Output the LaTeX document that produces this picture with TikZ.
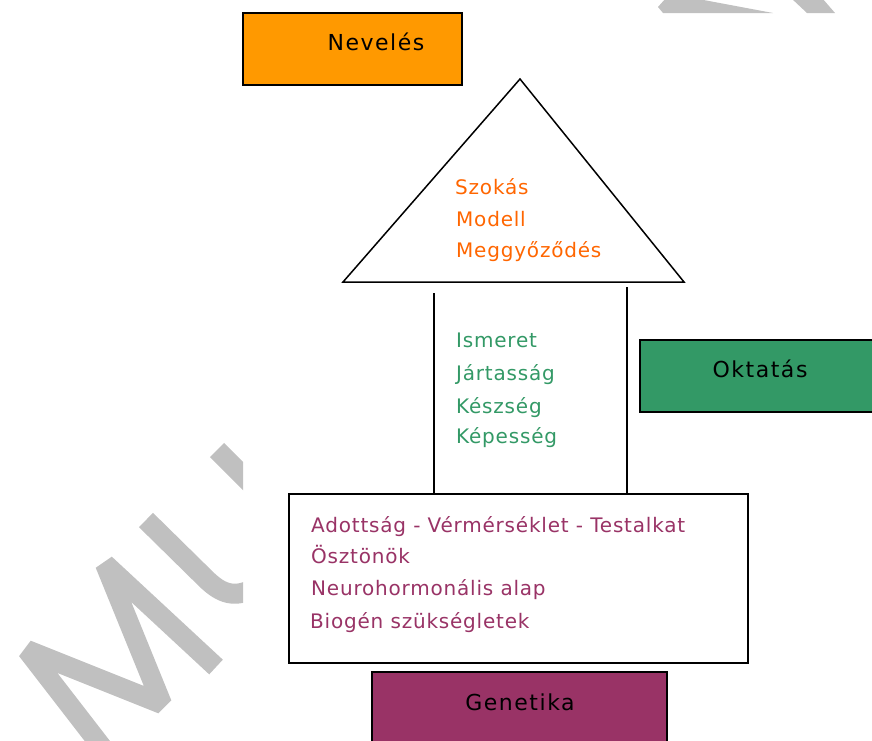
\documentclass[tikz,border=0pt]{standalone}
\usepackage{fontspec}
\setmainfont{DejaVu Sans}
\newfontfamily\itemfont{DejaVu Sans}[LetterSpace=4]
\newfontfamily\titlefont{DejaVu Sans}[LetterSpace=7]
\definecolor{orfill}{HTML}{FF9900}
\definecolor{grfill}{HTML}{339966}
\definecolor{pufill}{HTML}{993366}
\definecolor{ortext}{HTML}{FF6600}
\definecolor{wmgrey}{HTML}{C0C0C0}
\tikzset{
  box/.style={draw=black, line width=1.5pt, rectangle, inner sep=0pt},
  edge/.style={draw=black, line width=1.5pt},
  item/.style={inner sep=0pt, anchor=base west, font=\itemfont\fontsize{20}{22}\selectfont},
  title/.style={inner sep=0pt, anchor=base, text=black, font=\titlefont\fontsize{22}{24}\selectfont},
  wmstroke/.style={draw=wmgrey, line width=20pt, line join=bevel, line cap=butt}
}
\begin{document}
\begin{tikzpicture}[x=1pt, y=-1pt]
\useasboundingbox (0,0) rectangle (872,740);
\fill[white] (0,0) rectangle (872,740);
% watermark (clipped)
\begin{scope}
  \clip (0,0) rectangle (243,745) (243,-5) rectangle (877,13);
  \draw[wmstroke] (112,760) -- (27,650) -- (162,704) -- (105,564) -- (216,667);
  \draw[wmstroke] (146,520) -- (205,578) .. controls (222,595) and (235,598) .. (255,588);
  \draw[wmstroke] (217,450) -- (265,498);
  \fill[wmgrey] (658,7) -- (666,-2) -- (693,-2) -- (773,13) -- (663,13) -- cycle;
  \fill[wmgrey] (791,-2) -- (822,-2) -- (835,13) -- (807,13) -- cycle;
\end{scope}
% boxes
\node[box, fill=orfill, minimum width=219pt, minimum height=72pt] (nev) at (352.5,49) {};
\node[box, fill=grfill, minimum width=238pt, minimum height=72pt] (okt) at (759,376) {};
\node[box, fill=white, minimum width=459pt, minimum height=169pt] (bot) at (518.5,578.5) {};
\node[box, fill=pufill, minimum width=295pt, minimum height=78pt] (gen) at (519.5,711) {};
% roof
\coordinate (apex) at (520,79);
\coordinate (rr) at (684,282);
\coordinate (rl) at (343,282);
\draw[edge, line join=miter] (apex) -- (rr) -- (rl) -- cycle;
% walls
\coordinate (wl) at (434,293);
\coordinate (wr) at (627,287);
\draw[edge] (wl) -- (wl |- bot.north);
\draw[edge] (wr) -- (wr |- bot.north);
% titles
\node[title] (nevt) at (376,50) {Nevelés};
\node[title] (oktt) at (760,377) {Oktatás};
\node[title] (gent) at (520,710) {Genetika};
% roof texts
\node[item, text=ortext] (t1) at (455,194) {Szokás};
\node[item, text=ortext] (t2) at (456,226) {Modell};
\node[item, text=ortext] (t3) at (456,257) {Meggyőződés};
% wall texts
\node[item, text=grfill] (g1) at (456,347) {Ismeret};
\node[item, text=grfill] (g2) at (456,380) {Jártasság};
\node[item, text=grfill] (g3) at (456,413) {Készség};
\node[item, text=grfill] (g4) at (456,443) {Képesség};
% base texts
\node[item, text=pufill] (p1) at (311,532) {Adottság - Vérmérséklet - Testalkat};
\node[item, text=pufill] (p2) at (311,563) {Ösztönök};
\node[item, text=pufill] (p3) at (311,595) {Neurohormonális alap};
\node[item, text=pufill] (p4) at (310,628) {Biogén szükségletek};
\end{tikzpicture}
\end{document}
